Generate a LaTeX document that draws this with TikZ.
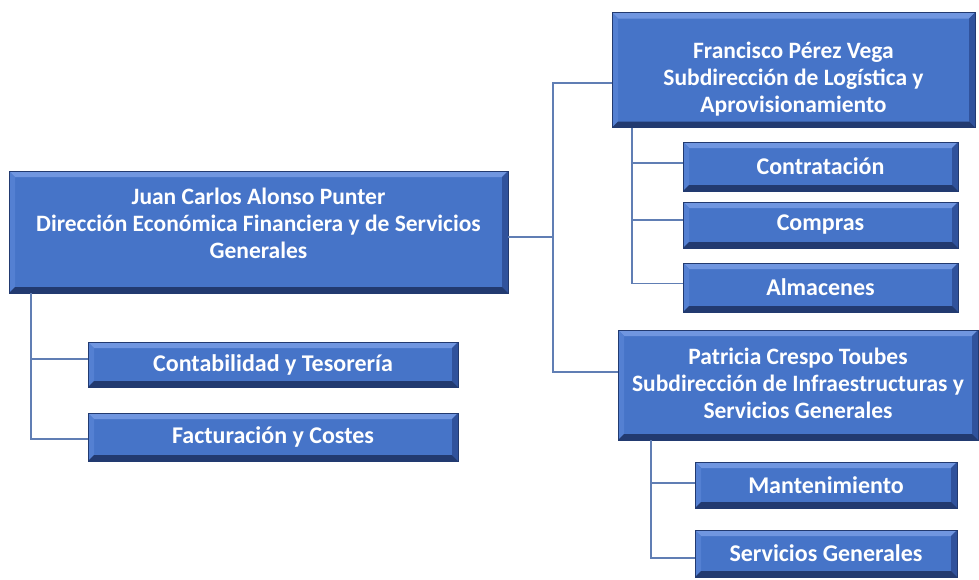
\documentclass[tikz,border=0pt]{standalone}
\usepackage{fontspec}
\setmainfont{Carlito}
\definecolor{boxblue}{RGB}{70,116,200}
\definecolor{bevlight}{RGB}{112,150,224}
\definecolor{bevleft}{RGB}{84,128,210}
\definecolor{bevdark}{RGB}{34,58,112}
\definecolor{bevmid}{RGB}{48,82,156}
\definecolor{linkblue}{RGB}{96,126,180}
\tikzset{
  orgbox/.style={rectangle, fill=boxblue, draw=bevdark, line width=0.8pt,
    text=white, align=center, inner sep=0pt,
    font=\bfseries\fontsize{23.5}{27}\selectfont,
    path picture={
      \fill[bevlight] (path picture bounding box.north west) -- (path picture bounding box.north east)
        -- ([xshift=-6pt,yshift=-6pt]path picture bounding box.north east)
        -- ([xshift=6pt,yshift=-6pt]path picture bounding box.north west) -- cycle;
      \fill[bevleft] (path picture bounding box.north west) -- (path picture bounding box.south west)
        -- ([xshift=6pt,yshift=6pt]path picture bounding box.south west)
        -- ([xshift=6pt,yshift=-6pt]path picture bounding box.north west) -- cycle;
      \fill[bevmid] (path picture bounding box.north east) -- (path picture bounding box.south east)
        -- ([xshift=-6pt,yshift=6pt]path picture bounding box.south east)
        -- ([xshift=-6pt,yshift=-6pt]path picture bounding box.north east) -- cycle;
      \fill[bevdark] (path picture bounding box.south west) -- (path picture bounding box.south east)
        -- ([xshift=-6pt,yshift=6pt]path picture bounding box.south east)
        -- ([xshift=6pt,yshift=6pt]path picture bounding box.south west) -- cycle;
    }},
  boxtext/.style={text=white, align=center, inner sep=0pt,
    font=\bfseries\fontsize{23.5}{27}\selectfont},
  smallbox/.style={orgbox, font=\bfseries\fontsize{24}{27}\selectfont},
  link/.style={draw=linkblue, line width=1.4pt}
}
\begin{document}
\begin{tikzpicture}[x=1pt,y=-1pt]
\useasboundingbox (0,0) rectangle (979,579);
% main boxes
\node[orgbox, minimum width=499pt, minimum height=122pt,
  label={[boxtext, yshift=9pt]center:Juan Carlos Alonso Punter\\Dirección Económica Financiera y de Servicios\\Generales}] (dir) at (258.5,232) {};
\node[orgbox, minimum width=363pt, minimum height=115pt,
  label={[boxtext, yshift=-9pt]center:Francisco Pérez Vega\\Subdirección de Logística y\\Aprovisionamiento}] (fran) at (793.5,70) {};
\node[orgbox, minimum width=360pt, minimum height=110pt,
  label={[boxtext, yshift=2pt]center:Patricia Crespo Toubes\\Subdirección de Infraestructuras y\\Servicios Generales}] (pat) at (798,385) {};
% children
\node[smallbox, minimum width=275pt, minimum height=49pt] (contr) at (820.5,166.5) {Contratación};
\node[smallbox, minimum width=275pt, minimum height=46pt] (comp) at (820.5,225) {Compras};
\node[smallbox, minimum width=275pt, minimum height=49pt] (alm) at (820.5,287.5) {Almacenes};
\node[smallbox, minimum width=262pt, minimum height=46pt] (mant) at (826,485) {Mantenimiento};
\node[smallbox, minimum width=262pt, minimum height=47pt] (serv) at (826,553.5) {Servicios Generales};
\node[smallbox, minimum width=370pt, minimum height=45pt] (cont) at (273,364.5) {Contabilidad y Tesorería};
\node[smallbox, minimum width=370pt, minimum height=48pt] (fact) at (273,437) {Facturación y Costes};
% junction coordinates
\coordinate (bus) at (553,237);
\coordinate (fx) at (632,0);
\coordinate (px) at (651,0);
\coordinate (lx) at (31,0);
% connectors
\draw[link] (dir.east |- bus) -- (bus);
\draw[link] ([yshift=-13pt]fran.west) -| (bus) |- ([yshift=13pt]pat.west);
\draw[link] (fran.south -| fx) |- ([yshift=4pt]alm.west);
\draw[link] (fx |- contr.west) ++(0,-3.5) -- ([yshift=3.5pt]contr.west);
\draw[link] (fx |- comp.west) ++(0,-5) -- ([yshift=5pt]comp.west);
\draw[link] (pat.south -| px) |- ([yshift=-4.5pt]serv.west);
\draw[link] (px |- mant.west) ++(0,-2) -- ([yshift=2pt]mant.west);
\draw[link] (dir.south -| lx) |- ([yshift=-2pt]fact.west);
\draw[link] (lx |- cont.west) ++(0,-5.5) -- ([yshift=5.5pt]cont.west);
\end{tikzpicture}
\end{document}
